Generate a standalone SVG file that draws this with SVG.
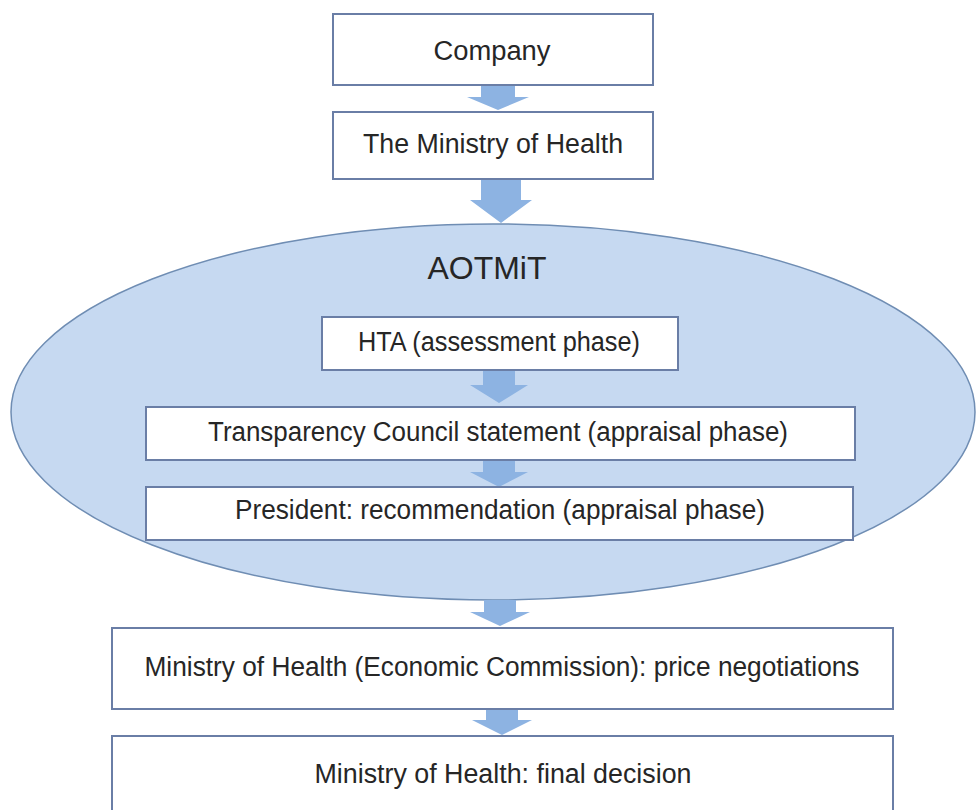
<svg xmlns="http://www.w3.org/2000/svg" width="980" height="810" viewBox="0 0 980 810">
  <defs>
    <style>
      .box { fill: #ffffff; stroke: #6a7ea6; stroke-width: 2; }
      .oval { fill: #c6d9f1; stroke: #6f8db3; stroke-width: 1.5; }
      .flow { fill: #8db3e2; }
      .lbl { font-family: "Liberation Sans", Arial, sans-serif; font-size: 27px; fill: #262626; text-anchor: middle; }
      .title { font-family: "Liberation Sans", Arial, sans-serif; font-size: 32px; fill: #262626; text-anchor: middle; }
    </style>
  </defs>
  <rect width="980" height="810" fill="#ffffff"/>

  <!-- AOTMiT container -->
  <g id="aotmit">
    <ellipse class="oval" cx="493" cy="412" rx="482" ry="188"/>
    <text class="title" x="487" y="279" textLength="119" lengthAdjust="spacingAndGlyphs">AOTMiT</text>
  </g>

  <!-- block arrows between steps -->
  <g id="connectors">
    <polygon class="flow" points="481,85 515,85 515,97 529,97 498,110 467,97 481,97"/>
    <polygon class="flow" points="481,180 521,180 521,200 532,200 501,223 470,200 481,200"/>
    <polygon class="flow" points="483,370 515,370 515,385 528,385 499,403 470,385 483,385"/>
    <polygon class="flow" points="483,460 515,460 515,472 528,472 499,487 470,472 483,472"/>
    <polygon class="flow" points="484,600 516,600 516,612 530,612 500,626 470,612 484,612"/>
    <polygon class="flow" points="486,709 518,709 518,720 532,720 502,735 472,720 486,720"/>
  </g>

  <g id="company">
    <rect class="box" x="333" y="14" width="320" height="71"/>
    <text class="lbl" x="492" y="60" textLength="117" lengthAdjust="spacingAndGlyphs">Company</text>
  </g>

  <g id="ministry">
    <rect class="box" x="333" y="112" width="320" height="67"/>
    <text class="lbl" x="493" y="153" textLength="260" lengthAdjust="spacingAndGlyphs">The Ministry of Health</text>
  </g>

  <g id="hta">
    <rect class="box" x="322" y="317" width="356" height="53"/>
    <text class="lbl" x="499" y="351" textLength="282" lengthAdjust="spacingAndGlyphs">HTA (assessment phase)</text>
  </g>

  <g id="council">
    <rect class="box" x="146" y="407" width="709" height="53"/>
    <text class="lbl" x="498" y="441" textLength="580" lengthAdjust="spacingAndGlyphs">Transparency Council statement (appraisal phase)</text>
  </g>

  <g id="president">
    <rect class="box" x="146" y="487" width="707" height="53"/>
    <text class="lbl" x="500" y="519" textLength="530" lengthAdjust="spacingAndGlyphs">President: recommendation (appraisal phase)</text>
  </g>

  <g id="negotiations">
    <rect class="box" x="112" y="628" width="781" height="81"/>
    <text class="lbl" x="502" y="676" textLength="715" lengthAdjust="spacingAndGlyphs">Ministry of Health (Economic Commission): price negotiations</text>
  </g>

  <g id="decision">
    <rect class="box" x="112" y="736" width="781" height="84"/>
    <text class="lbl" x="503" y="783" textLength="377" lengthAdjust="spacingAndGlyphs">Ministry of Health: final decision</text>
  </g>
</svg>
